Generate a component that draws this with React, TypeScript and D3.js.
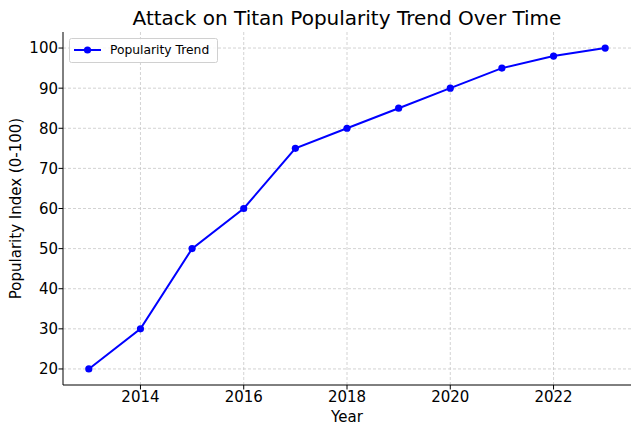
import React from "react";
import * as d3 from "d3";

const years = [2013, 2014, 2015, 2016, 2017, 2018, 2019, 2020, 2021, 2022, 2023];
const popularity = [20, 30, 50, 60, 75, 80, 85, 90, 95, 98, 100];
const xTicks = [2014, 2016, 2018, 2020, 2022];
const yTicks = [20, 30, 40, 50, 60, 70, 80, 90, 100];
const title = "Attack on Titan Popularity Trend Over Time";
const xLabel = "Year";
const yLabel = "Popularity Index (0-100)";
const seriesName = "Popularity Trend";

export default function App() {
  const W = 640, H = 434;
  const left = 63, right = 631, top = 32, bottom = 385;
  const x = d3.scaleLinear().domain([2012.5, 2023.5]).range([left, right]);
  const y = d3.scaleLinear().domain([16, 104]).range([bottom, top]);
  const line = d3.line<number>().x((_, i) => x(years[i])).y((d) => y(d));
  const font = "DejaVu Sans, sans-serif";
  return (
    <svg width={W} height={H} style={{ position: "absolute", left: 0, top: 0 }} fontFamily={font}>
      <rect width={W} height={H} fill="#fff" />
      <g stroke="#c8c8c8" strokeWidth={0.8} strokeDasharray="3,2">
        {xTicks.map((t) => (
          <line key={"gx" + t} x1={x(t)} x2={x(t)} y1={top} y2={bottom} />
        ))}
        {yTicks.map((t) => (
          <line key={"gy" + t} x1={left} x2={right} y1={y(t)} y2={y(t)} />
        ))}
      </g>
      <line x1={left} x2={left} y1={top} y2={bottom} stroke="#000" strokeWidth={1} />
      <line x1={left} x2={right} y1={bottom} y2={bottom} stroke="#000" strokeWidth={1} />
      {xTicks.map((t) => (
        <g key={"tx" + t}>
          <line x1={x(t)} x2={x(t)} y1={bottom} y2={bottom + 4.5} stroke="#000" strokeWidth={1} />
          <text x={x(t)} y={402} textAnchor="middle" fontSize={15} fill="#000">{t}</text>
        </g>
      ))}
      {yTicks.map((t) => (
        <g key={"ty" + t}>
          <line x1={left - 4.5} x2={left} y1={y(t)} y2={y(t)} stroke="#000" strokeWidth={1} />
          <text x={58} y={y(t)} dy="0.36em" textAnchor="end" fontSize={15} fill="#000">{t}</text>
        </g>
      ))}
      <path d={line(popularity) || ""} fill="none" stroke="#0000ff" strokeWidth={2} />
      {popularity.map((v, i) => (
        <circle key={i} cx={x(years[i])} cy={y(v)} r={3.6} fill="#0000ff" />
      ))}
      <text x={(left + right) / 2} y={25} textAnchor="middle" fontSize={20} fill="#000">{title}</text>
      <text x={(left + right) / 2} y={421.5} textAnchor="middle" fontSize={15} fill="#000">{xLabel}</text>
      <text transform={`translate(21,${(top + bottom) / 2}) rotate(-90)`} textAnchor="middle" fontSize={15} fill="#000">{yLabel}</text>
      <g>
        <rect x={69.5} y={38.5} width={148} height={24} rx={2} fill="#fff" fillOpacity={0.8} stroke="#d0d0d0" strokeWidth={1} />
        <line x1={74} x2={101} y1={50} y2={50} stroke="#0000ff" strokeWidth={2} />
        <circle cx={87.5} cy={50} r={3.6} fill="#0000ff" />
        <text x={110} y={50} dy="0.35em" fontSize={12.3} fill="#000">{seriesName}</text>
      </g>
    </svg>
  );
}
